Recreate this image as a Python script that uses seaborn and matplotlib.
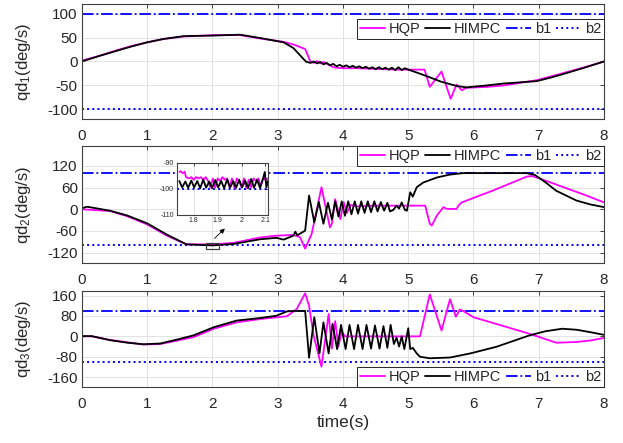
import seaborn as sns
import matplotlib.pyplot as plt
from matplotlib.patches import Rectangle

# joint 1 velocity (deg/s)
t1_hqp = [0, 0.25, 0.5, 0.75, 1.0, 1.25, 1.56, 2.0, 2.42, 2.73, 3.09, 3.25, 3.42, 3.5, 3.55, 3.6,
          3.65, 3.7, 3.8, 3.85, 3.9, 4.0, 4.2, 4.4, 4.6, 4.8, 5.0, 5.25, 5.33, 5.51, 5.65, 5.74,
          5.82, 5.89, 6.2, 6.46, 6.97, 7.38, 7.7, 8.0]
q1_hqp = [2, 11, 22, 32, 40, 47, 52, 55, 55, 48, 41, 35, 26, 0, -3, 1,
          -4, -1, -8, -12, -13, -14, -14, -15, -16, -17, -17, -17, -53, -21, -78, -48,
          -60, -55, -53, -50, -39, -24, -12, 0]

t1_himpc = [0, 0.25, 0.5, 0.75, 1.0, 1.25, 1.56, 2.0, 2.42, 2.73, 3.09, 3.24, 3.43,
            3.45, 3.5, 3.55, 3.6, 3.65, 3.7, 3.75, 3.8, 3.85, 3.9, 3.95, 4.0, 4.05, 4.1,
            4.15, 4.2, 4.25, 4.3, 4.35, 4.4, 4.45, 4.5, 4.55, 4.6, 4.65, 4.7, 4.75, 4.8,
            4.85, 4.9, 4.95, 5.0, 5.15, 5.33, 5.5, 5.74, 5.89, 6.2, 6.46, 6.97, 7.2, 7.38,
            7.7, 8.0]
q1_himpc = [0, 11, 21, 31, 40, 47, 53, 54, 56, 49, 40, 28, 0,
            -1, -3, 0, -4, -1, -6, -3, -8, -5, -10, -7, -11, -8, -12,
            -9, -13, -10, -14, -11, -15, -12, -16, -12, -16, -13, -17, -13, -18,
            -12, -18, -14, -17, -24, -33, -42, -51, -54, -50, -46, -41, -33, -26,
            -13, 0]

# joint 2 velocity (deg/s)
t2_hqp = [0, 0.43, 0.69, 1.0, 1.3, 1.6, 2.0, 2.32, 2.73, 2.98, 3.24, 3.34, 3.42, 3.52, 3.6,
          3.67, 3.8, 3.83, 3.88, 3.96, 4.01, 4.06, 4.12, 4.2, 4.5, 5.0, 5.26, 5.33, 5.36,
          5.44, 5.54, 5.59, 5.74, 5.77, 5.82, 6.3, 6.81, 6.89, 7.0, 7.38, 7.7, 8.0]
q2_hqp = [0, -5, -19, -42, -73, -97, -97, -93, -78, -73, -71, -77, -109, -68, 0,
          61, -50, -40, 28, -27, 20, -10, 12, 8, 10, 10, 10, -40, -45,
          -17, 6, 1, 1, 10, 19, 52, 90, 92, 86, 61, 40, 19]

t2_himpc = [0, 0.08, 0.43, 0.69, 1.0, 1.3, 1.6, 2.0, 2.32, 2.73, 2.98, 3.09, 3.24, 3.27, 3.3,
            3.42, 3.48, 3.56, 3.63, 3.70, 3.77, 3.83, 3.88, 3.93, 3.98, 4.03, 4.08, 4.13,
            4.18, 4.23, 4.28, 4.33, 4.38, 4.43, 4.48, 4.53, 4.58, 4.63, 4.68, 4.72, 4.77,
            4.82, 4.86, 4.9, 4.95, 4.98, 5.03, 5.07, 5.13, 5.23, 5.44, 5.64, 5.84, 6.0,
            6.4, 6.81, 6.94, 7.1, 7.27, 7.58, 7.8, 8.0]
q2_himpc = [3, 7, -4, -17, -39, -70, -97, -100, -96, -83, -79, -84, -73, -62, -72,
            -59, 38, -36, 20, -40, 18, -28, 22, -20, 22, -18, 22, -14,
            22, -12, 22, -10, 22, -8, 22, -6, 20, -4, 18, -6, -2,
            10, 2, 19, -2, -4, 47, 35, 61, 74, 88, 96, 100, 100,
            100, 100, 95, 75, 51, 24, 13, 6]

# joint 3 velocity (deg/s)
t3_hqp = [0, 0.15, 0.43, 0.94, 1.2, 1.45, 1.71, 2.02, 2.37, 2.73, 3.14, 3.29, 3.42, 3.48,
          3.55, 3.67, 3.78, 3.83, 3.88, 3.93, 3.98, 4.03, 4.5, 5.18, 5.33, 5.51, 5.64,
          5.73, 5.79, 5.84, 6.0, 6.4, 6.86, 7.27, 7.58, 7.8, 8.0]
q3_hqp = [0, 0, -14, -32, -30, -17, -3, 30, 55, 68, 79, 107, 169, 120,
          4, -119, 88, -48, 60, -40, 20, 0, 0, 0, 165, 23, 146,
          77, 105, 100, 75, 45, 10, -25, -22, -16, -6]

t3_himpc = [0, 0.15, 0.43, 0.7, 0.94, 1.2, 1.45, 1.71, 2.02, 2.37, 2.73, 2.98, 3.14, 3.24,
            3.42, 3.48, 3.56, 3.64, 3.70, 3.78, 3.84, 3.91, 3.97, 4.04, 4.10, 4.17, 4.23,
            4.30, 4.36, 4.43, 4.49, 4.56, 4.62, 4.68, 4.73, 4.78, 4.82, 4.86, 4.9, 4.94,
            5.0, 5.03, 5.07, 5.13, 5.18, 5.33, 5.64, 5.95, 6.35, 6.86, 7.1, 7.36, 7.58,
            7.8, 8.0]
q3_himpc = [1, 1, -15, -25, -31, -28, -13, 4, 36, 62, 72, 81, 98, 100,
            100, -84, 75, -67, 55, -67, 49, -50, 45, -50, 45, -50, 45,
            -50, 45, -48, 43, -48, 40, -45, 45, -30, -5, -40, 0, -50,
            32, -50, -45, -67, -80, -86, -83, -67, -41, 4, 20, 30, 26,
            16, 6]

# zoomed detail of joint 2 around t = 2 s
tz_hqp = [1.74, 1.745, 1.755, 1.762, 1.768, 1.78, 1.79, 1.80, 1.81, 1.82, 1.83, 1.84,
          1.85, 1.86, 1.87, 1.88, 1.89, 1.90, 1.91, 1.92, 1.93, 1.94, 1.95, 1.96, 1.97,
          1.98, 1.99, 2.00, 2.01, 2.02, 2.03, 2.04, 2.05, 2.06, 2.07, 2.08, 2.09, 2.10, 2.11]
qz_hqp = [-93.5, -93.2, -94, -93.4, -95.5, -96, -95.5, -96.5, -95.5, -96, -95.5, -96.5,
          -95.5, -97, -99.5, -96, -99.5, -96, -97, -95.5, -96.5, -96, -99.5, -96, -99.6,
          -96, -97, -99.5, -96, -99.7, -96.5, -99.5, -96, -97, -96, -99, -96, -96.5, -96]

tz_himpc = [1.74, 1.752, 1.765, 1.777, 1.79, 1.802, 1.815, 1.827, 1.84, 1.852, 1.865,
            1.877, 1.89, 1.902, 1.915, 1.927, 1.94, 1.952, 1.965, 1.977, 1.99, 2.002,
            2.015, 2.027, 2.04, 2.052, 2.065, 2.077, 2.09, 2.097, 2.104, 2.11]
qz_himpc = [-97, -99.5, -97.2, -99.6, -96.8, -99.5, -97, -99.8, -96.5, -99.6, -97.2,
            -99.8, -96.6, -99.5, -97, -99.8, -96.4, -99.6, -97, -99.7, -96.5, -99.5,
            -96.8, -99.8, -96.2, -99.6, -96.5, -99.7, -96, -93.5, -99.5, -97]

y_ticks = [[-100, -50, 0, 50, 100], [-120, -60, 0, 60, 120], [-160, -80, 0, 80, 160]]
y_lims = [(-120, 120), (-150, 175), (-200, 180)]
y_names = ['qd$_1$(deg/s)', 'qd$_2$(deg/s)', 'qd$_3$(deg/s)']

sns.set_theme(style='whitegrid')
plt.rcParams['font.family'] = ['Liberation Sans', 'DejaVu Sans']
plt.rcParams['mathtext.fontset'] = 'custom'
plt.rcParams['mathtext.rm'] = 'Liberation Sans'
plt.rcParams['mathtext.it'] = 'Liberation Sans'
plt.rcParams['axes.unicode_minus'] = False

fig = plt.figure(figsize=(6.23, 4.43), dpi=100)
boxes = [[0.1316, 0.7314, 0.8379, 0.2596],
         [0.1316, 0.4052, 0.8379, 0.2652],
         [0.1316, 0.1257, 0.8379, 0.2185]]
series = [(t1_hqp, q1_hqp, t1_himpc, q1_himpc),
          (t2_hqp, q2_hqp, t2_himpc, q2_himpc),
          (t3_hqp, q3_hqp, t3_himpc, q3_himpc)]
leg_pos = [('upper right', (1.0, 0.87)), ('upper right', (1.0, 1.0)), ('lower right', (1.0, 0.0))]

TXT = '#262626'


def style_axes(a, size):
    a.set_facecolor('white')
    a.grid(True, color='#e2e2e2', lw=0.7)
    for s in a.spines.values():
        s.set_color('#404040')
        s.set_linewidth(0.8)
    a.tick_params(direction='in', length=3, top=True, right=True, labelsize=size,
                  colors=TXT, width=0.6)


axes = []
for i in range(3):
    ax = fig.add_axes(boxes[i])
    th, qh, tb, qb = series[i]
    ax.axhline(100, color='#0000ff', ls='-.', lw=1.3, label='b1', zorder=1.5)
    ax.axhline(-100, color='#0000ff', ls=':', lw=1.4, label='b2', zorder=1.5)
    sns.lineplot(x=th, y=qh, ax=ax, color='#ff00ff', lw=1.3, sort=False, estimator=None,
                 label='HQP', zorder=2)
    sns.lineplot(x=tb, y=qb, ax=ax, color='black', lw=1.3, sort=False, estimator=None,
                 label='HIMPC', zorder=2.1)
    ax.set_xlim(0, 8)
    ax.set_ylim(*y_lims[i])
    ax.set_xticks(range(9))
    ax.set_yticks(y_ticks[i])
    style_axes(ax, 11)
    ax.tick_params(axis='x', pad=7)
    ax.tick_params(axis='y', pad=3)
    ax.set_ylabel(y_names[i], fontsize=12, color=TXT)
    ax.yaxis.set_label_coords(-0.094, 0.5)
    ax.set_xlabel('')
    h, l = ax.get_legend_handles_labels()
    order = [l.index(k) for k in ['HQP', 'HIMPC', 'b1', 'b2']]
    loc, anchor = leg_pos[i]
    leg = ax.legend([h[k] for k in order], [l[k] for k in order], ncol=4, loc=loc,
                    bbox_to_anchor=anchor, borderaxespad=0, fontsize=10.5, frameon=True,
                    fancybox=False, framealpha=1, edgecolor='#262626', borderpad=0.2,
                    handlelength=1.7, handletextpad=0.3, columnspacing=0.3)
    leg.get_frame().set_linewidth(0.7)
    for tx in leg.get_texts():
        tx.set_color(TXT)
    axes.append(ax)

axes[2].set_xlabel('time(s)', fontsize=12.5, color=TXT, labelpad=3)

# box + arrow marking the zoomed region
ax2 = axes[1]
ax2.add_patch(Rectangle((1.9, -110), 0.2, 17, fill=False, ec='#404040', lw=0.9, zorder=3))
ax2.annotate('', xy=(2.22, -48), xytext=(2.0, -86),
             arrowprops=dict(arrowstyle='-|>', color='black', lw=0.6, mutation_scale=7))

ins = fig.add_axes([0.284, 0.5158, 0.146, 0.1163])
ins.axhline(-100, color='#0000ff', ls=':', lw=1.4, zorder=1.5)
sns.lineplot(x=tz_hqp, y=qz_hqp, ax=ins, color='#ff00ff', lw=1.3, sort=False, estimator=None)
sns.lineplot(x=tz_himpc, y=qz_himpc, ax=ins, color='black', lw=1.3, sort=False, estimator=None)
ins.set_xlim(1.73, 2.11)
ins.set_ylim(-110, -90)
ins.set_xticks([1.8, 1.9, 2.0, 2.1])
ins.set_xticklabels(['1.8', '1.9', '2', '2.1'])
ins.set_yticks([-110, -100, -90])
style_axes(ins, 5)
ins.tick_params(length=2, pad=2)
ins.set_xlabel('')
ins.set_ylabel('')

fig.savefig('out.png', dpi=100)
